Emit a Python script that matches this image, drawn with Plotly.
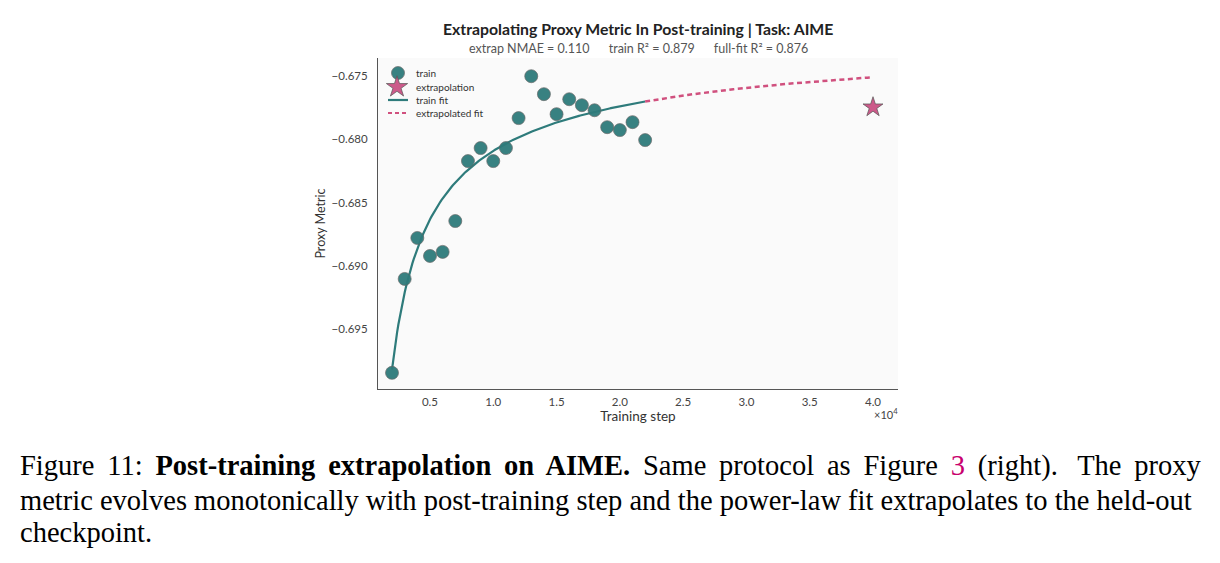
import numpy as np
import plotly.graph_objects as go

# ---------------- data ----------------
train_steps = [2000, 3000, 4000, 5000, 6000, 7000, 8000, 9000, 10000, 11000, 12000,
               13000, 14000, 15000, 16000, 17000, 18000, 19000, 20000, 21000, 22000]
train_values = [-0.69845, -0.69103, -0.68779, -0.68921, -0.68889, -0.68645, -0.68171,
                -0.68068, -0.68171, -0.68068, -0.67831, -0.67500, -0.67642, -0.67800,
                -0.67682, -0.67729, -0.67769, -0.67903, -0.67926, -0.67863, -0.68005]
extrap_steps = [40000]
extrap_values = [-0.67745]

# power-law fit parameters: y = a - b * x^(-c)
fit_a = -0.67081
fit_b = 3.048
fit_c = 0.62
train_fit_range = [2000, 22000]
extrap_fit_range = [22000, 40000]

x_tickvals = [5000, 10000, 15000, 20000, 25000, 30000, 35000, 40000]
x_ticktext = ["0.5", "1.0", "1.5", "2.0", "2.5", "3.0", "3.5", "4.0"]
y_tickvals = [-0.695, -0.690, -0.685, -0.680, -0.675]

legend_labels = ["train", "extrapolation", "train fit", "extrapolated fit"]

title_text = "Extrapolating Proxy Metric In Post-training | Task: AIME"
NB = "\u00a0"
TS = "\u2009"
subtitle_text = ("extrap NMAE = 0.110" + NB * 6 + "train R\u00b2 = 0.879" + NB * 6
                 + "full-fit R\u00b2 = 0.876")
caption_lines = [
    "Figure" + TS + " 11:" + TS + " <b>Post-training" + TS + " extrapolation" + TS + " on" + TS
    + " AIME.</b>" + TS + " Same" + TS + " protocol" + TS + " as" + TS + " Figure" + TS
    + " <span style='color:#c8006e'>3</span>" + TS + " (right)." + NB + TS + " The" + TS + " proxy",
    "metric evolves monotonically with post-training step and the power-law fit extrapolates to the held-out",
    "checkpoint.",
]

# ---------------- layout geometry ----------------
W, H = 1220, 563
L, R, T, B = 378, 898, 58, 389


def px(xp):
    return (xp - L) / (R - L)


def py(yp):
    return (B - yp) / (B - T)


def power_law(x):
    x = np.asarray(x, dtype=float)
    return fit_a - fit_b * x ** (-fit_c)


teal = "#2e7b7b"
pink = "#cc5a8a"
dash_pink = "#d0507e"
font = "Lato"

train_marker = dict(size=13, color=teal, opacity=0.95,
                    line=dict(color="rgba(100,100,100,0.7)", width=1))
star_marker = dict(symbol="star", size=15, color=pink, line=dict(color="#555555", width=0.7))
train_line = dict(color=teal, width=2.2)
extrap_line = dict(color=dash_pink, width=2.5, dash="5px,3.5px")

x_fit_train = np.linspace(train_fit_range[0], train_fit_range[1], 200)
x_fit_ext = np.linspace(extrap_fit_range[0], extrap_fit_range[1], 200)

fig = go.Figure()
fig.add_trace(go.Scatter(x=x_fit_train, y=power_law(x_fit_train), mode="lines",
                         name="train fit", line=train_line, showlegend=False))
fig.add_trace(go.Scatter(x=x_fit_ext, y=power_law(x_fit_ext), mode="lines",
                         name="extrapolated fit", line=extrap_line, showlegend=False))
fig.add_trace(go.Scatter(x=train_steps, y=train_values, mode="markers", name="train",
                         marker=train_marker, showlegend=False))
fig.add_trace(go.Scatter(x=extrap_steps, y=extrap_values, mode="markers", name="extrapolation",
                         marker=star_marker, showlegend=False))

# ---------- compact legend drawn on an overlay axis in paper units ----------
leg_y = [73, 87, 100, 113]
leg_icon_x = 398
leg_line_x = [388, 408]
leg_text_x = 414
fig.add_trace(go.Scatter(x=[px(leg_icon_x)], y=[py(leg_y[0])], mode="markers", marker=train_marker,
                         xaxis="x2", yaxis="y2", showlegend=False, hoverinfo="skip"))
fig.add_trace(go.Scatter(x=[px(leg_icon_x - 1)], y=[py(leg_y[1])], mode="markers",
                         marker=dict(star_marker, size=16),
                         xaxis="x2", yaxis="y2", showlegend=False, hoverinfo="skip"))
fig.add_trace(go.Scatter(x=[px(v) for v in leg_line_x], y=[py(leg_y[2])] * 2, mode="lines",
                         line=train_line, xaxis="x2", yaxis="y2", showlegend=False, hoverinfo="skip"))
fig.add_trace(go.Scatter(x=[px(v) for v in leg_line_x], y=[py(leg_y[3])] * 2, mode="lines",
                         line=dict(extrap_line, width=2.2, dash="4px,3px"),
                         xaxis="x2", yaxis="y2", showlegend=False, hoverinfo="skip"))

annotations = [
    dict(text="<b>" + title_text + "</b>", x=0.5, y=py(29), xref="paper", yref="paper",
         showarrow=False, xanchor="center", yanchor="middle",
         font=dict(family=font, size=15.8, color="#222222")),
    dict(text=subtitle_text, x=0.5, y=py(49), xref="paper", yref="paper",
         showarrow=False, xanchor="center", yanchor="middle",
         font=dict(family=font, size=12.5, color="#555555")),
    dict(text="\u00d710<sup>4</sup>", x=px(886), y=py(413), xref="paper", yref="paper",
         showarrow=False, xanchor="center", yanchor="middle",
         font=dict(family=font, size=11, color="#444444")),
]
for lab, yy in zip(legend_labels, leg_y):
    annotations.append(dict(text=lab, x=px(leg_text_x), y=py(yy), xref="paper", yref="paper",
                            showarrow=False, xanchor="left", yanchor="middle",
                            font=dict(family=font, size=10, color="#333333")))
caption_y = [466, 500, 532]
for line, yy in zip(caption_lines, caption_y):
    annotations.append(dict(
        text=line, x=px(18), y=py(yy), xref="paper", yref="paper",
        showarrow=False, xanchor="left", yanchor="middle",
        font=dict(family="Liberation Serif", size=28.5, color="#000000"),
    ))

fig.update_layout(
    width=W, height=H,
    margin=dict(l=L, r=W - R, t=T, b=H - B, pad=0),
    paper_bgcolor="white",
    plot_bgcolor="#fafafa",
    font=dict(family=font, size=11, color="#444444"),
    showlegend=False,
    annotations=annotations,
    xaxis=dict(
        range=[893, 41975], tickmode="array", tickvals=x_tickvals, ticktext=x_ticktext,
        showgrid=False, zeroline=False, showline=True, linecolor="#555555", linewidth=1,
        ticks="", ticklabelstandoff=2, tickfont=dict(family=font, size=11.5, color="#444444"),
        title=dict(text="Training step", font=dict(family=font, size=13.5, color="#333333"),
                   standoff=4),
    ),
    yaxis=dict(
        range=[-0.69973, -0.67356], tickmode="array", tickvals=y_tickvals, tickformat=".3f",
        showgrid=False, zeroline=False, showline=True, linecolor="#555555", linewidth=1,
        ticks="", ticklabelstandoff=7, tickfont=dict(family=font, size=11.5, color="#444444"),
        title=dict(text="Proxy Metric", font=dict(family=font, size=12.5, color="#333333"),
                   standoff=3),
    ),
    xaxis2=dict(overlaying="x", range=[0, 1], visible=False, fixedrange=True),
    yaxis2=dict(overlaying="y", range=[0, 1], visible=False, fixedrange=True),
)

fig.write_html("out.html")
